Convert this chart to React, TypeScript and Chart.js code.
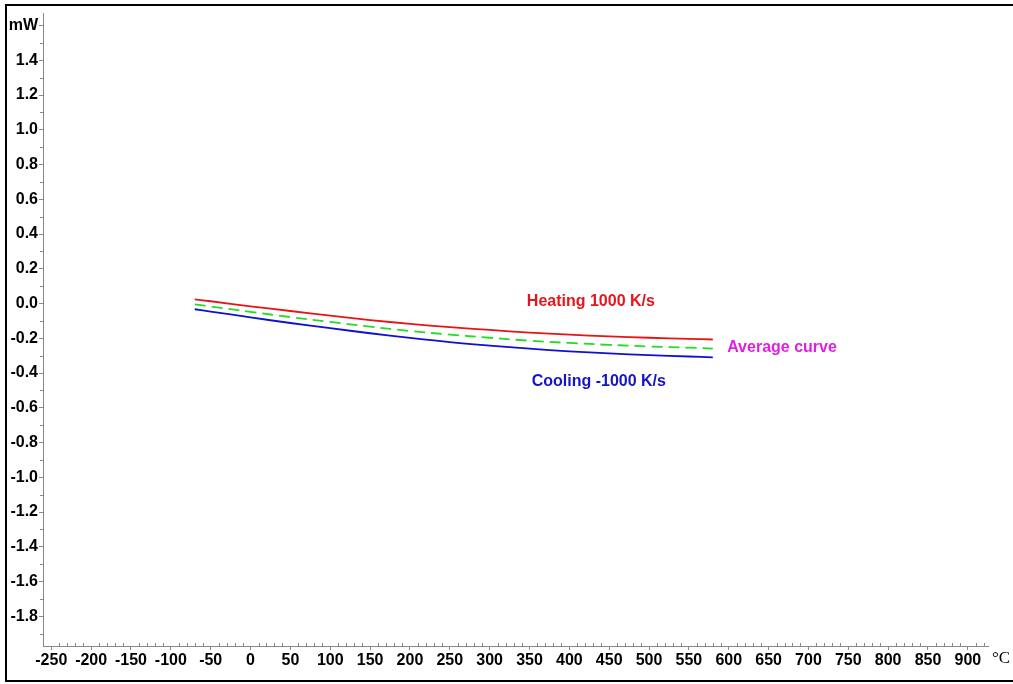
import { useEffect, useRef } from 'react';
import { Chart, registerables } from 'chart.js';

Chart.register(...registerables);

// Temperature (°C) and heat-flow (mW) values
const temperatures = [-70, -50, 0, 50, 100, 150, 200, 250, 300, 350, 400, 450, 500, 550, 580];
const heating = [0.024, 0.013, -0.016, -0.043, -0.07, -0.095, -0.117, -0.136, -0.152, -0.167, -0.179, -0.189, -0.197, -0.203, -0.207];
const cooling = [-0.033, -0.046, -0.08, -0.112, -0.142, -0.171, -0.198, -0.222, -0.242, -0.26, -0.275, -0.287, -0.297, -0.305, -0.31];
const average = [-0.005, -0.017, -0.048, -0.078, -0.106, -0.133, -0.158, -0.179, -0.197, -0.214, -0.227, -0.238, -0.247, -0.254, -0.259];

const xTicks = [-250, -200, -150, -100, -50, 0, 50, 100, 150, 200, 250, 300, 350, 400, 450, 500, 550, 600, 650, 700, 750, 800, 850, 900];
const yTicks = [1.6, 1.4, 1.2, 1.0, 0.8, 0.6, 0.4, 0.2, 0.0, -0.2, -0.4, -0.6, -0.8, -1.0, -1.2, -1.4, -1.6, -1.8];
const yUnitTick = 1.6;
const yUnitLabel = 'mW';
const xUnitLabel = '°C';

const annotationTexts = ['Heating 1000 K/s', 'Average curve', 'Cooling -1000 K/s'];
const annotationX = [427, 598, 437];
const annotationY = [0.009, -0.256, -0.452];
const annotationAlign = ['center', 'left', 'center'];
const annotationColors = ['#e8141c', '#e020e0', '#1414c8'];

const X_MIN = -260.4;
const X_MAX = 925.3;
const Y_MIN = -1.971;
const Y_MAX = 1.672;

const tickFont = { family: '"Liberation Sans", Arial, sans-serif', weight: 'bold' as const, size: 16 };

export default function App() {
  const canvasRef = useRef<HTMLCanvasElement | null>(null);

  useEffect(() => {
    if (!canvasRef.current) return;

    const decorations = {
      id: 'decorations',
      afterDraw(chart: any) {
        const ctx = chart.ctx;
        const xs = chart.scales.x;
        const ys = chart.scales.y;
        const area = chart.chartArea;
        ctx.save();
        // minor ticks
        ctx.strokeStyle = '#888';
        ctx.lineWidth = 1;
        ctx.beginPath();
        for (let v = -260; v <= 920; v += 10) {
          if (v % 50 === 0) continue;
          const px = Math.round(xs.getPixelForValue(v)) + 0.5;
          ctx.moveTo(px, area.bottom - 3);
          ctx.lineTo(px, area.bottom);
        }
        for (let i = 0; i < yTicks.length; i++) {
          const v = yTicks[i] - 0.1;
          if (v < Y_MIN) continue;
          const py = Math.round(ys.getPixelForValue(v)) + 0.5;
          ctx.moveTo(area.left - 3, py);
          ctx.lineTo(area.left, py);
        }
        ctx.stroke();

        // annotation labels
        ctx.font = 'bold 16px "Liberation Sans", Arial, sans-serif';
        ctx.textBaseline = 'middle';
        for (let i = 0; i < annotationTexts.length; i++) {
          ctx.fillStyle = annotationColors[i];
          ctx.textAlign = annotationAlign[i];
          ctx.fillText(annotationTexts[i], xs.getPixelForValue(annotationX[i]), ys.getPixelForValue(annotationY[i]));
        }

        // unit on x axis
        ctx.font = '17px "Liberation Serif", serif';
        ctx.fillStyle = '#000';
        ctx.textAlign = 'left';
        ctx.fillText(xUnitLabel, area.right + 4, area.bottom + 13);

        // frame
        ctx.strokeStyle = '#000';
        ctx.lineWidth = 2;
        ctx.strokeRect(6, 5, 1010, 676);
        ctx.restore();
      },
    };

    const mk = (arr: number[]) => temperatures.map((t, i) => ({ x: t, y: arr[i] }));

    const chart = new Chart(canvasRef.current, {
      type: 'line',
      data: {
        datasets: [
          { label: 'Heating 1000 K/s', data: mk(heating), borderColor: '#e81414', borderWidth: 1.8, pointRadius: 0, tension: 0.4, fill: false },
          { label: 'Average curve', data: mk(average), borderColor: '#22dd22', borderWidth: 1.8, borderDash: [11, 6], pointRadius: 0, tension: 0.4, fill: false },
          { label: 'Cooling -1000 K/s', data: mk(cooling), borderColor: '#1010d0', borderWidth: 1.8, pointRadius: 0, tension: 0.4, fill: false },
        ],
      },
      options: {
        responsive: false,
        animation: false,
        devicePixelRatio: 1,
        layout: { padding: { top: 13, right: 25, left: 0, bottom: 0 } },
        plugins: { legend: { display: false }, tooltip: { enabled: false }, title: { display: false } },
        scales: {
          x: {
            type: 'linear',
            min: X_MIN,
            max: X_MAX,
            grid: { display: true, drawOnChartArea: false, drawTicks: true, tickLength: 4, color: '#888' },
            border: { display: true, color: '#888', width: 1 },
            ticks: { font: tickFont, color: '#000', padding: 1, maxRotation: 0, autoSkip: false, callback: (v: any) => String(v) },
            afterBuildTicks: (s: any) => { s.ticks = xTicks.map((v) => ({ value: v })); },
            afterFit: (s: any) => { s.height = 38; },
          },
          y: {
            type: 'linear',
            min: Y_MIN,
            max: Y_MAX,
            grid: { display: true, drawOnChartArea: false, drawTicks: true, tickLength: 4, color: '#888' },
            border: { display: true, color: '#888', width: 1 },
            ticks: {
              font: tickFont,
              color: '#000',
              padding: 1,
              autoSkip: false,
              callback: (v: any) => (Math.abs(v - yUnitTick) < 1e-6 ? yUnitLabel : Number(v).toFixed(1)),
            },
            afterBuildTicks: (s: any) => { s.ticks = yTicks.map((v) => ({ value: v })); },
            afterFit: (s: any) => { s.width = 43; },
          },
        },
      },
      plugins: [decorations],
    });

    return () => chart.destroy();
  }, []);

  return (
    <div style={{ position: 'absolute', left: 0, top: 0, width: 1013, height: 684, background: '#fff' }}>
      <canvas ref={canvasRef} width={1013} height={684} style={{ display: 'block' }} />
    </div>
  );
}
